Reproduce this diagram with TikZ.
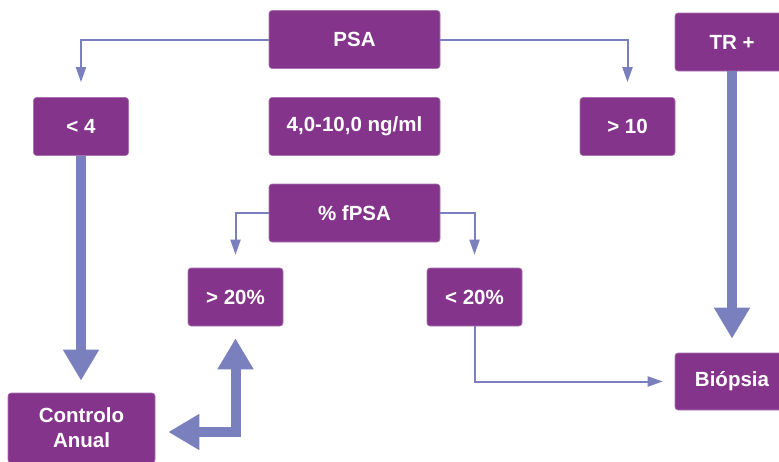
\documentclass[tikz,border=0pt]{standalone}
\usepackage{fontspec}
\setmainfont{Liberation Sans}
\usetikzlibrary{arrows.meta,positioning}
\definecolor{boxpurple}{RGB}{132,53,139}
\definecolor{arrowblue}{RGB}{122,128,190}

\begin{document}
\begin{tikzpicture}[x=1pt,y=-1pt,
    box/.style={fill=boxpurple,draw=boxpurple!70!white,line width=0.6pt,rounded corners=3pt,
      text=white,font=\bfseries\fontsize{20.5}{25}\selectfont,align=center,
      minimum width=95pt,minimum height=58pt,inner sep=0pt},
    wide/.style={box,minimum width=171pt},
    thin/.style={draw=arrowblue,line width=2pt,-{Triangle[width=10pt,length=15pt]}},
    thick/.style={draw=arrowblue,line width=10pt,-{Triangle[width=34pt,length=31pt]}}]
  \path[use as bounding box,clip] (0,0) rectangle (779,461);
  % boxes
  \node[wide] (psa) at (354.5,39.5) {PSA};
  \node[box] (lt4) at (81,126.5) {< 4};
  \node[wide] (mid) at (354.5,126.5) {4,0-10,0 ng/ml};
  \node[box] (gt10) at (627.5,126.5) {> 10};
  \node[box,minimum width=114pt] (tr) at (732,42) {TR +};
  \node[wide] (fpsa) at (354.5,213) {\% fPSA};
  \node[box] (gt20) at (235.5,297) {> 20\%};
  \node[box] (lt20) at (474.5,297) {< 20\%};
  \node[box,minimum width=147pt,minimum height=70pt] (ctrl) at (81.5,428) {Controlo\\Anual};
  \node[box,minimum width=114pt,minimum height=57pt] (bio) at (732,381.5) {Biópsia};
  % thin connectors
  \draw[thin,shorten >=15pt] (psa.west) -| (lt4.north);
  \draw[thin,shorten >=15pt] (psa.east) -| (gt10.north);
  \draw[thin,shorten >=13pt] (fpsa.west) -| (gt20.north);
  \draw[thin,shorten >=13pt] (fpsa.east) -| (lt20.north);
  \draw[thin,shorten >=12pt] (lt20.south) |- (bio.west);
  % thick arrows
  \draw[thick,shorten >=12pt] (lt4.south) -- (lt4.south |- ctrl.north);
  \draw[thick,shorten >=14pt] (tr.south) -- (bio.north);
  \draw[thick,{Triangle[width=34pt,length=31pt]}-{Triangle[width=34pt,length=31pt]},
    shorten <=12pt,shorten >=13pt] (gt20.south) |- ([yshift=-4pt]ctrl.east);
\end{tikzpicture}
\end{document}
